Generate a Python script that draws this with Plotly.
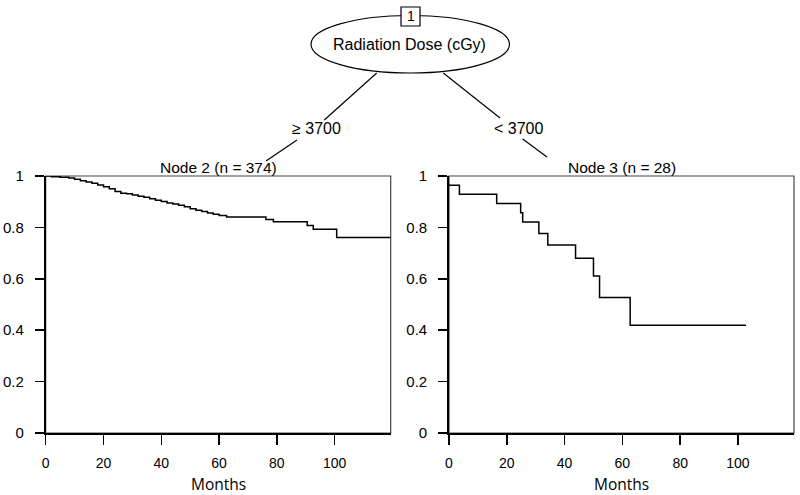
import plotly.graph_objects as go

# ---- data ----
node2_months = [0, 2, 5, 8, 10, 12, 14, 16, 18, 20, 22, 24, 26, 28, 30, 32, 34, 36, 38, 40,
                42, 44, 46, 48, 50, 52, 54, 56, 58, 60, 62.6, 76.2, 78.8, 90.5, 92.6, 100.7, 119.4]
node2_surv = [1.0, 0.997, 0.995, 0.992, 0.987, 0.982, 0.977, 0.972, 0.965, 0.958, 0.950, 0.940,
              0.933, 0.931, 0.926, 0.921, 0.917, 0.911, 0.906, 0.901, 0.895, 0.891, 0.886, 0.880,
              0.873, 0.867, 0.862, 0.856, 0.851, 0.846, 0.840, 0.831, 0.822, 0.807, 0.793, 0.761, 0.761]

node3_months = [0, 3.6, 16.5, 24.8, 25.5, 31.1, 34.2, 43.8, 50.0, 52.1, 62.7, 102.8]
node3_surv = [0.964, 0.929, 0.893, 0.857, 0.821, 0.776, 0.732, 0.680, 0.611, 0.527, 0.419, 0.419]

x_ticks = [0, 20, 40, 60, 80, 100]
y_ticks = [0, 0.2, 0.4, 0.6, 0.8, 1]
y_ticklabels = ["0", "0.2", "0.4", "0.6", "0.8", "1"]

node_titles = ["Node 2 (n = 374)", "Node 3 (n = 28)"]
split_var = "Radiation Dose (cGy)"
split_labels = ["\u2265 3700", "< 3700"]
x_title = "Months"

W, H = 800, 495
FONT = "Liberation Sans"


def px(x):
    return x / W


def py(y):
    return 1 - y / H


fig = go.Figure()
fig.add_trace(go.Scatter(x=node2_months, y=node2_surv, mode="lines", line_shape="hv",
                         line=dict(color="black", width=1.5), xaxis="x", yaxis="y",
                         showlegend=False, hoverinfo="skip"))
fig.add_trace(go.Scatter(x=node3_months, y=node3_surv, mode="lines", line_shape="hv",
                         line=dict(color="black", width=1.5), xaxis="x2", yaxis="y2",
                         showlegend=False, hoverinfo="skip"))

ydom = [py(433), py(176)]
xdom1 = [px(45.7), px(390.7)]
xdom2 = [px(449), px(794)]

xcommon = dict(range=[0, 119.4], tickvals=x_ticks, ticks="outside", ticklen=10, tickwidth=1.5,
               tickcolor="black", showline=True, linecolor="black", linewidth=1.6,
               showgrid=False, zeroline=False, fixedrange=True, automargin=False,
               tickfont=dict(family=FONT, size=14, color="black"), ticklabelstandoff=7)
ycommon = dict(range=[0, 1], tickvals=y_ticks, ticktext=y_ticklabels, ticks="outside",
               ticklen=9, tickwidth=1.5, tickcolor="black", showline=True, linecolor="black",
               linewidth=1.8, showgrid=False, zeroline=False, fixedrange=True, domain=ydom,
               automargin=False,
               tickfont=dict(family=FONT, size=15, color="black"), ticklabelstandoff=8)

fig.update_layout(
    width=W, height=H, autosize=False,
    margin=dict(l=0, r=0, t=0, b=0, pad=0, autoexpand=False),
    paper_bgcolor="white", plot_bgcolor="white", showlegend=False,
    xaxis=dict(domain=xdom1, anchor="y", **xcommon),
    yaxis=dict(anchor="x", **ycommon),
    xaxis2=dict(domain=xdom2, anchor="y2", **xcommon),
    yaxis2=dict(anchor="x2", **ycommon),
)

# panel boxes
for xr, yr in [("x domain", "y domain"), ("x2 domain", "y2 domain")]:
    fig.add_shape(type="rect", xref=xr, yref=yr, x0=0, x1=1, y0=0, y1=1,
                  line=dict(color="#444", width=1.2), layer="below")


def label(x, y, text, size, family=FONT, color="black"):
    fig.add_annotation(x=px(x), y=py(y), xref="paper", yref="paper", text=text,
                       showarrow=False, font=dict(family=family, size=size, color=color),
                       xanchor="center", yanchor="middle")


# panel titles and x titles
for cx, title in zip([218.2, 621.5], node_titles):
    label(cx, 168, title, 15.5)
    label(cx, 484, x_title, 15.5, family="Open Sans", color="black")

# tree: root node
fig.add_shape(type="circle", xref="paper", yref="paper", x0=px(311), x1=px(509.5),
              y0=py(73), y1=py(15.5), line=dict(color="black", width=1.2), fillcolor="white")
fig.add_shape(type="rect", xref="paper", yref="paper", x0=px(401), x1=px(420),
              y0=py(26), y1=py(7), line=dict(color="black", width=1.2), fillcolor="white")
label(410.5, 16.5, "1", 14)
label(410, 44.5, split_var, 16)

# edges
edges = [((376.7, 73), (324.3, 120)), ((297, 140), (266, 161)),
         ((443.3, 73), (500, 118)), ((522.7, 139), (547, 157))]
for (x0, y0), (x1, y1) in edges:
    fig.add_shape(type="line", xref="paper", yref="paper", x0=px(x0), y0=py(y0),
                  x1=px(x1), y1=py(y1), line=dict(color="black", width=1.2))

for cx, lab in zip([316, 518], split_labels):
    label(cx, 128.5, lab, 16)

fig.write_html(
    "out.html",
    config={"displayModeBar": False, "staticPlot": True},
    post_script="document.body.style.margin='0px';document.body.style.overflow='hidden';",
)
